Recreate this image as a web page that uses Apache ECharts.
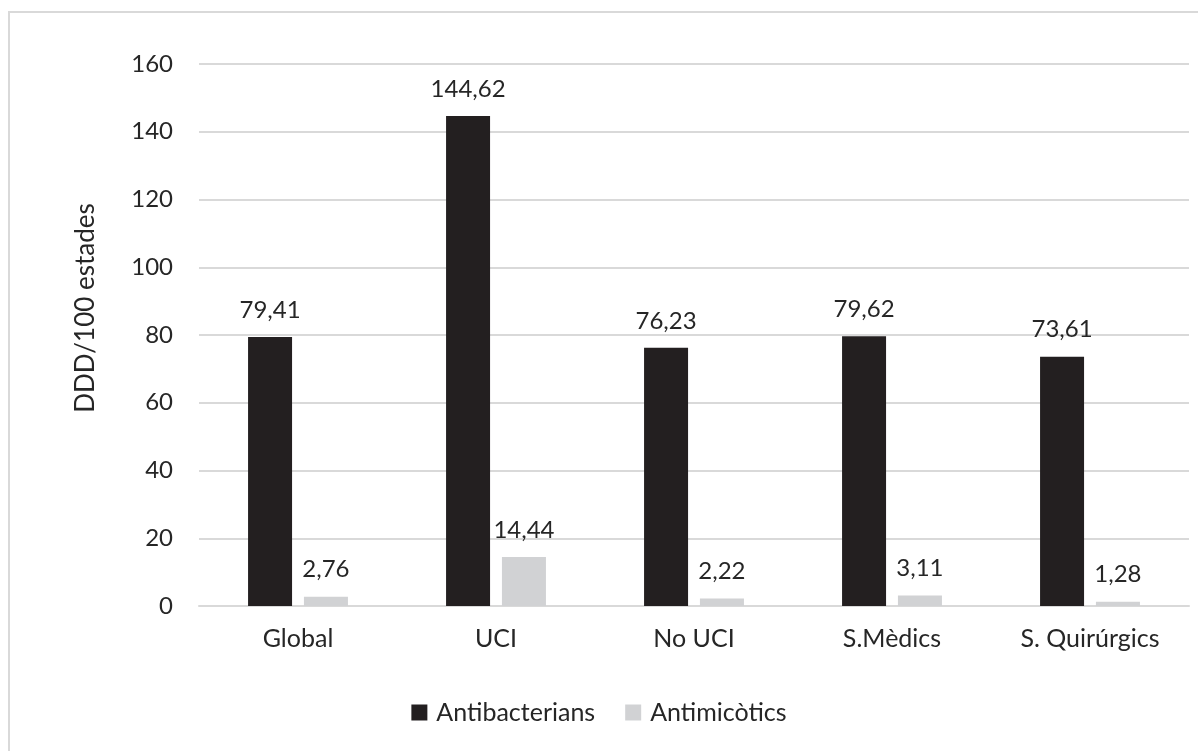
<!DOCTYPE html>
<html><head><meta charset="utf-8">
<script src="https://cdn.jsdelivr.net/npm/echarts@6/dist/echarts.min.js"></script>
<style>html,body{margin:0;padding:0;background:#fff;}#c{width:1198px;height:751px;}</style>
</head><body><div id="c"></div>
<script>
const categories = ['Global', 'UCI', 'No UCI', 'S.Mèdics', 'S. Quirúrgics'];
const antibacterians = [79.41, 144.62, 76.23, 79.62, 73.61];
const antimicotics = [2.76, 14.44, 2.22, 3.11, 1.28];
const yTicks = [0, 20, 40, 60, 80, 100, 120, 140, 160];
const FONT = 'Lato';
const FS = 24;
const fmt = p => p.value.toFixed(2).replace('.', ',');
const chart = echarts.init(document.getElementById('c'));
chart.setOption({
  animation: false,
  textStyle: { fontFamily: FONT },
  graphic: [
    { type: 'rect', shape: { x: 9, y: 12, width: 1300, height: 900 }, style: { fill: 'none', stroke: '#d9d9d9', lineWidth: 2 } },
    { type: 'text', left: 15, top: -27, style: { text: 'estades', fontFamily: FONT, fontSize: 29, fill: '#595959' } }
  ],
  grid: { left: 199, right: 9, top: 64, bottom: 145, containLabel: false },
  legend: {
    bottom: 21, left: 'center', itemWidth: 16, itemHeight: 16, itemGap: 30,
    icon: 'rect',
    textStyle: { fontFamily: FONT, fontSize: 25, color: '#262626', padding: [0, 0, 0, 4] },
    data: ['Antibacterians', 'Antimicòtics']
  },
  xAxis: {
    type: 'category', data: categories,
    axisLine: { lineStyle: { color: '#d9d9d9', width: 2 } },
    axisTick: { show: false },
    axisLabel: { fontFamily: FONT, fontSize: 25, color: '#262626', margin: 20 }
  },
  yAxis: {
    type: 'value', min: yTicks[0], max: yTicks[yTicks.length - 1], interval: 20,
    name: 'DDD/100 estades', nameLocation: 'middle', nameGap: 100,
    nameTextStyle: { fontFamily: FONT, fontSize: 26, color: '#262626', padding: [0, 0, 0, 54] },
    axisLine: { show: false }, axisTick: { show: false },
    axisLabel: { fontFamily: FONT, fontSize: FS, color: '#262626', margin: 26 },
    splitLine: { lineStyle: { color: '#d9d9d9', width: 2 } }
  },
  series: [
    { name: 'Antibacterians', type: 'bar', data: antibacterians, barWidth: 44, barGap: '27%',
      itemStyle: { color: '#231f20' },
      label: { show: true, position: 'top', distance: 15, formatter: fmt, fontFamily: FONT, fontSize: FS, color: '#262626' } },
    { name: 'Antimicòtics', type: 'bar', data: antimicotics, barWidth: 44,
      itemStyle: { color: '#d1d2d4' },
      label: { show: true, position: 'top', distance: 15, formatter: fmt, fontFamily: FONT, fontSize: FS, color: '#262626' } }
  ]
});
</script></body></html>
